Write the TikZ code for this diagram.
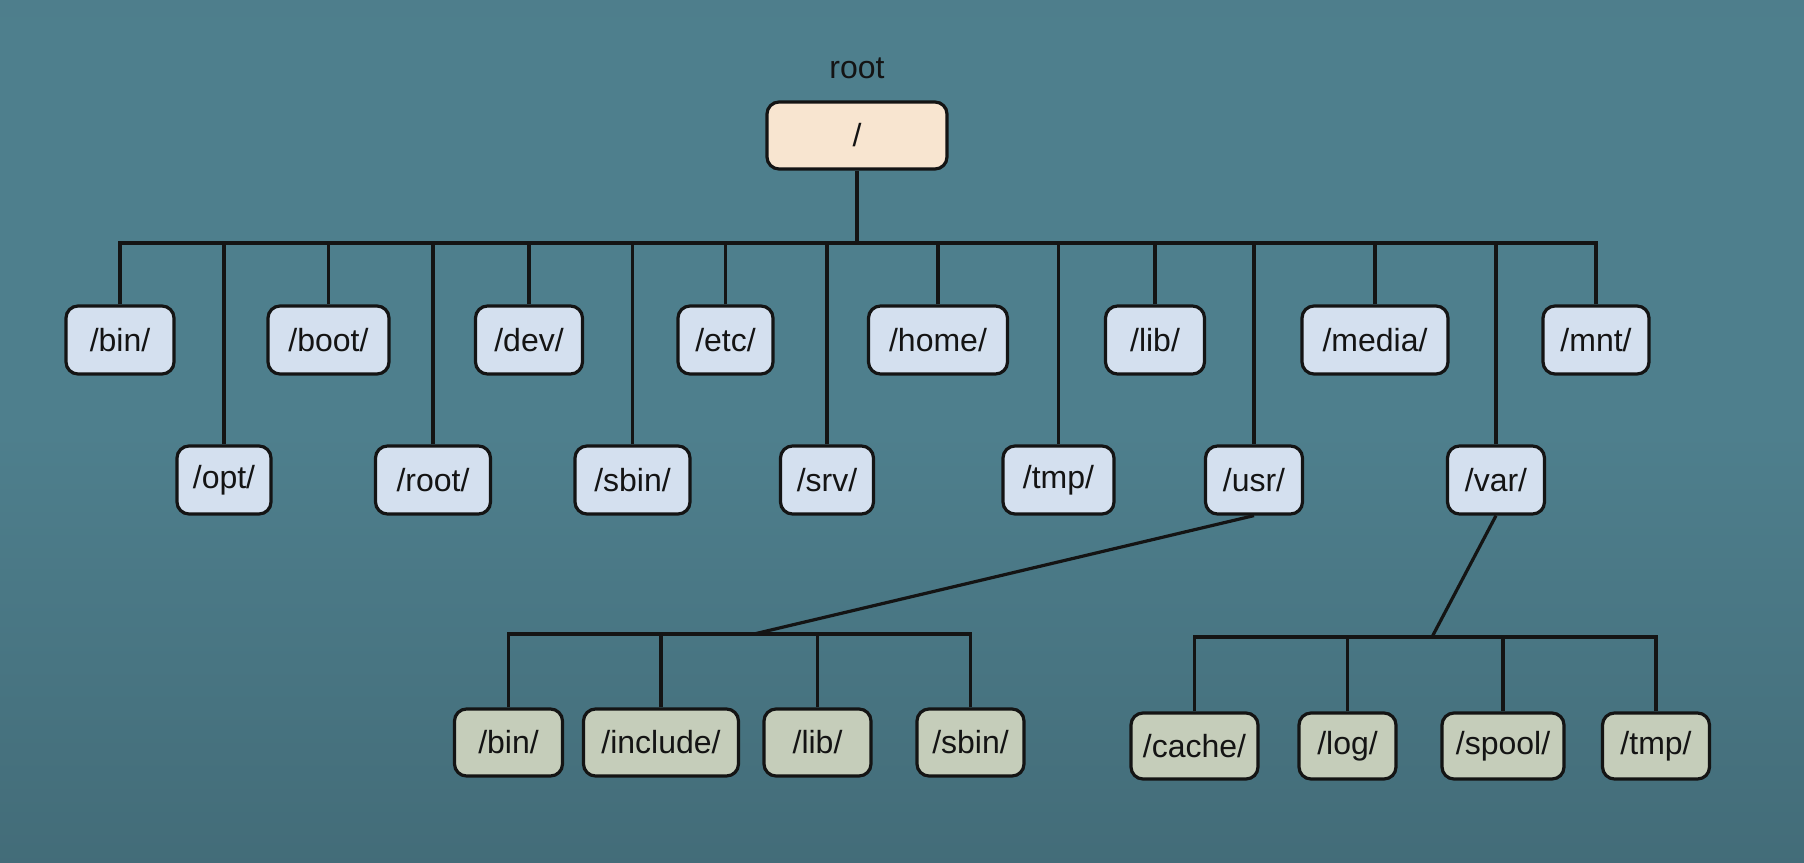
\documentclass[tikz,border=0pt]{standalone}
\usepackage{fontspec}
\setmainfont{Liberation Sans}
\definecolor{bgtop}{HTML}{45707D}
\definecolor{bgmid}{HTML}{4E7F8D}
\definecolor{bgbot}{HTML}{3A5D68}
\definecolor{blueb}{HTML}{D4E0EF}
\definecolor{greenb}{HTML}{C5CDBA}
\definecolor{peachb}{HTML}{F8E5D0}
\definecolor{inkc}{HTML}{141414}
\pgfdeclareverticalshading{bgshade}{100bp}{
  color(0bp)=(bgbot); color(25bp)=(bgbot!55!bgmid); color(50bp)=(bgmid);
  color(72bp)=(bgmid); color(90bp)=(bgmid!70!bgtop); color(100bp)=(bgtop)}
\tikzset{
  dirbox/.style={draw=inkc, line width=1.6pt, rounded corners=6pt, fill=blueb,
    minimum height=34pt, inner sep=0pt, text=inkc,
    font=\fontsize{16pt}{20pt}\selectfont},
  subbox/.style={dirbox, fill=greenb},
  topbox/.style={dirbox, fill=peachb},
  bw/.style={minimum width=#1*0.5pt},
  bh/.style={minimum height=#1*0.5pt},
  conn/.style={draw=inkc, line width=1.6pt},
  lbl/.style={text=inkc, inner sep=0pt, font=\fontsize{16pt}{20pt}\selectfont}
}
\begin{document}
\begin{tikzpicture}[x=0.5pt, y=-0.5pt]
\useasboundingbox (0,0) rectangle (1804,862);
\shade[shading=bgshade] (0,0) rectangle (1804,862);

% root
\node[lbl] (rootlabel) at (857,68) {root};
\node[topbox, bw=180, bh=67] (rt) at (857,135.5) {/};

% first row
\node[dirbox, bw=108] (bin) at (120,340) {/bin/};
\node[dirbox, bw=121] (boot) at (328.5,340) {/boot/};
\node[dirbox, bw=107] (dev) at (529,340) {/dev/};
\node[dirbox, bw=95] (etc) at (725.5,340) {/etc/};
\node[dirbox, bw=139] (home) at (938,340) {/home/};
\node[dirbox, bw=99] (lib) at (1155,340) {/lib/};
\node[dirbox, bw=146] (media) at (1375,340) {/media/};
\node[dirbox, bw=106] (mnt) at (1596,340) {/mnt/};

% second row
\node[dirbox, bw=94] (opt) at (224,480) {/opt/};
\node[dirbox, bw=115] (rootd) at (433,480) {/root/};
\node[dirbox, bw=115] (sbin) at (632.5,480) {/sbin/};
\node[dirbox, bw=93] (srv) at (827,480) {/srv/};
\node[dirbox, bw=111] (tmp) at (1058.5,480) {/tmp/};
\node[dirbox, bw=97] (usr) at (1254,480) {/usr/};
\node[dirbox, bw=97] (var) at (1496,480) {/var/};

% usr children
\node[subbox, bw=108, bh=67] (ubin) at (508.5,742.5) {/bin/};
\node[subbox, bw=155, bh=67] (uinc) at (661,742.5) {/include/};
\node[subbox, bw=107, bh=67] (ulib) at (817.5,742.5) {/lib/};
\node[subbox, bw=107, bh=67] (usbin) at (970.5,742.5) {/sbin/};

% var children
\node[subbox, bw=127, bh=66] (vcache) at (1194.5,746) {/cache/};
\node[subbox, bw=97, bh=66] (vlog) at (1347.5,746) {/log/};
\node[subbox, bw=122, bh=66] (vspool) at (1503,746) {/spool/};
\node[subbox, bw=107, bh=66] (vtmp) at (1656,746) {/tmp/};

% junction points
\coordinate (rootbus) at (857,243);
\coordinate (usrbus) at (754,634);
\coordinate (varbus) at (1432,637);

% connectors from root
\draw[conn] (rt.south) -- (rootbus);
\foreach \n in {bin,boot,dev,etc,home,lib,media,mnt,opt,rootd,sbin,srv,tmp,usr,var}
  \draw[conn] (\n.north) |- (rootbus);

% usr subtree
\draw[conn] (usr.south) -- (usrbus);
\foreach \n in {ubin,uinc,ulib,usbin}
  \draw[conn] (\n.north) |- (usrbus);

% var subtree
\draw[conn] (var.south) -- (varbus);
\foreach \n in {vcache,vlog,vspool,vtmp}
  \draw[conn] (\n.north) |- (varbus);
\end{tikzpicture}
\end{document}
